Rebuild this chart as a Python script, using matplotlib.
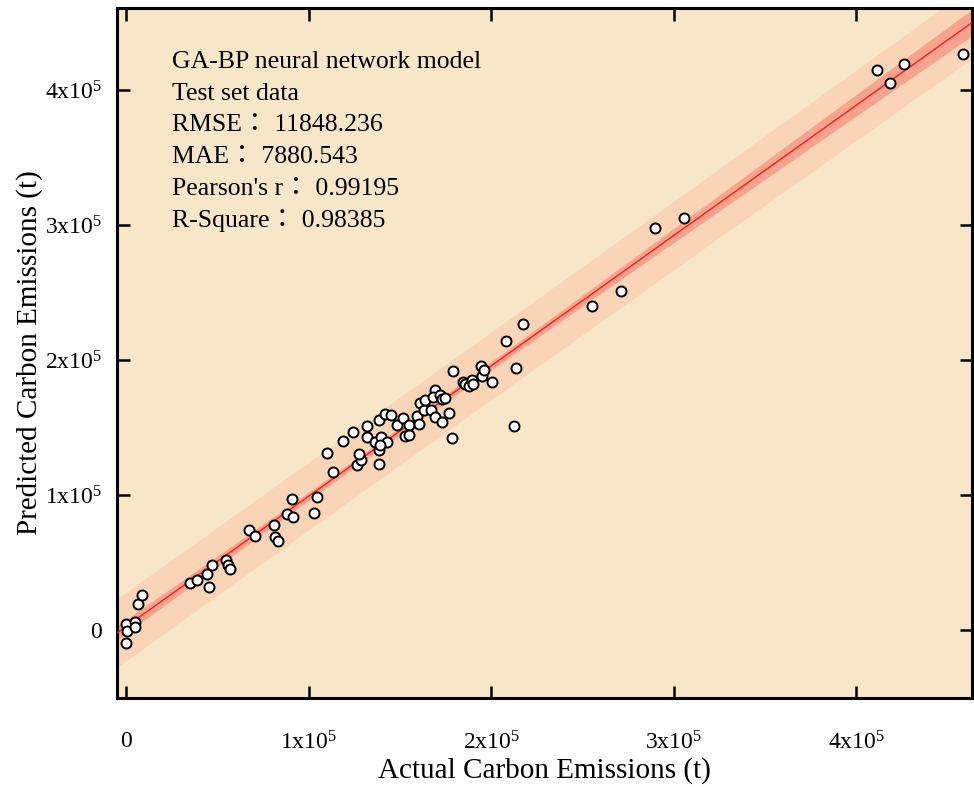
import numpy as np
import matplotlib
matplotlib.use("Agg")
import matplotlib.pyplot as plt
from matplotlib.ticker import FuncFormatter

plt.rcParams['font.family'] = ['Liberation Serif', 'Noto Sans CJK JP', 'DejaVu Sans']
plt.rcParams['mathtext.fontset'] = 'custom'
plt.rcParams['mathtext.rm'] = 'Liberation Serif'
plt.rcParams['mathtext.it'] = 'Liberation Serif:italic'

# Actual vs predicted carbon emissions (t), test set
actual = [0, 700, 4900, 4900, 0, 6700, 8600, 35100, 38700, 44500, 45600, 46800,
          54800, 56100, 56700, 67600, 70700, 80900, 81600, 83400, 88200, 91300,
          90800, 103000, 104600, 113300, 110000, 119100, 124500, 126700, 128600,
          127800, 138500, 131900, 131900, 136400, 139700, 138800, 142800, 139200,
          138800, 142100, 145000, 148300, 151600, 154900, 153000, 155100, 159300,
          160700, 161100, 163300, 163800, 166900, 169500, 173000, 169300, 168400,
          172000, 173000, 174800, 177100, 178300, 179300, 184500, 185700, 188100,
          189400, 190000, 194900, 194500, 196100, 200700, 208400, 213700, 212800,
          217400, 255200, 271000, 289800, 305700, 411500, 418400, 426300, 458600]
predicted = [4400, -500, 6100, 2400, -9100, 19200, 26100, 34800, 37300, 41400, 31800,
             48100, 52100, 48400, 45600, 74200, 70200, 77900, 69300, 66500, 86500,
             84100, 97100, 87200, 98700, 117000, 131600, 140000, 147100, 122700,
             125900, 130900, 123300, 151100, 143200, 139200, 143200, 133300, 139500,
             137000, 155500, 160500, 159200, 152300, 157300, 152300, 143700, 144700,
             158500, 153100, 168600, 162900, 170800, 163400, 158000, 154300, 177700,
             172800, 174500, 171500, 172100, 161000, 142500, 191900, 183900, 182400,
             181200, 185100, 182600, 188000, 195900, 193000, 183600, 214100, 194100,
             151600, 227000, 240300, 250900, 298000, 305400, 414600, 405200, 419200,
             426900]

stats_lines = ["GA-BP neural network model", "Test set data",
               "RMSE\uff1a 11848.236", "MAE\uff1a 7880.543",
               "Pearson's r\uff1a 0.99195", "R-Square\uff1a 0.98385"]

x_ticks = [0, 100000, 200000, 300000, 400000]
y_ticks = [0, 100000, 200000, 300000, 400000]

x = np.array(actual, float)
y = np.array(predicted, float)
n = len(x)
b, a = np.polyfit(x, y, 1)
resid = y - (a + b * x)
s = np.sqrt(np.sum(resid ** 2) / (n - 2))
xm = x.mean()
sxx = np.sum((x - xm) ** 2)
t_crit = 1.989

xlim = (-5000, 463500)
ylim = (-50000, 460600)
xg = np.linspace(xlim[0], xlim[1], 300)
yg = a + b * xg
ci = t_crit * s * np.sqrt(1 / n + (xg - xm) ** 2 / sxx)
pi = t_crit * s * np.sqrt(1 + 1 / n + (xg - xm) ** 2 / sxx)

fig = plt.figure(figsize=(9.74, 7.87), dpi=100)
ax = fig.add_axes([0.1201, 0.1131, 0.8779, 0.8767])
ax.set_facecolor('#F8E6C8')
ax.fill_between(xg, yg - pi, yg + pi, color='#F9D4B6', lw=0, zorder=1)
ax.fill_between(xg, yg - ci, yg + ci, color='#F7A38D', lw=0, zorder=2)
ax.plot(xg, yg, color='#FF1A1A', lw=1.0, zorder=3)
ax.scatter(x, y, s=52, facecolor='white', edgecolor='black', linewidth=1.4, zorder=4)

ax.set_xlim(*xlim)
ax.set_ylim(*ylim)
ax.set_xticks(x_ticks)
ax.set_yticks(y_ticks)

def fmt(v, pos):
    k = int(round(v / 1e5))
    if k == 0:
        return "0"
    return r"$\mathregular{%dx10^5}$" % k

ax.xaxis.set_major_formatter(FuncFormatter(fmt))
ax.yaxis.set_major_formatter(FuncFormatter(fmt))
ax.tick_params(direction='in', length=9, width=1.8, top=True, right=True,
               labelsize=17)
ax.tick_params(axis='x', pad=24)
ax.tick_params(axis='y', pad=11)
for sp in ax.spines.values():
    sp.set_linewidth(2.2)

ax.set_xlabel("Actual Carbon Emissions (t)", fontsize=21, labelpad=2)
ax.set_ylabel("Predicted Carbon Emissions (t)", fontsize=21, labelpad=1)

for i, line in enumerate(stats_lines):
    ax.text(172 / 974, 1 - (68 + 31.7 * i) / 787, line, transform=fig.transFigure,
            fontsize=18.5, ha='left', va='baseline',
            family=['Liberation Serif', 'Noto Sans CJK JP'])

fig.savefig("out.png", dpi=100)
